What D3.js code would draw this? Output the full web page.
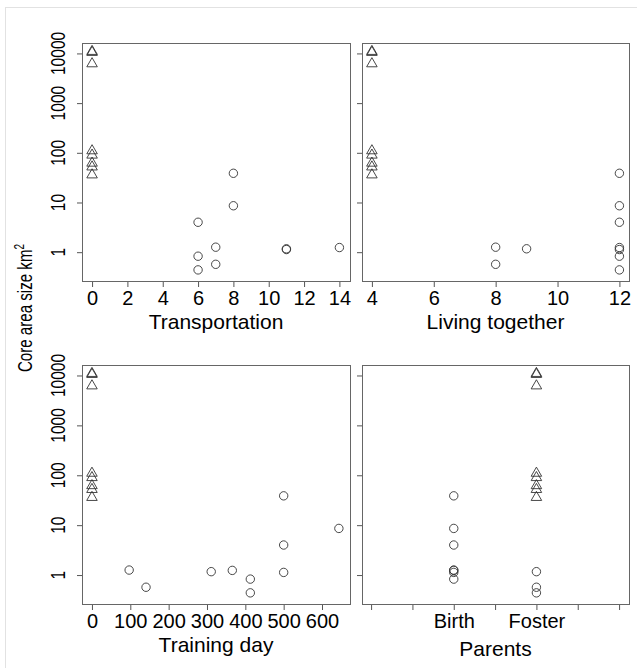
<!DOCTYPE html>
<html>
<head>
<meta charset="utf-8">
<script src="https://cdn.jsdelivr.net/npm/d3@7"></script>
<style>
  body { margin: 0; background: #fff; }
  svg text { font-family: "Liberation Sans", Arial, sans-serif; fill: #000; }
</style>
</head>
<body>
<div id="chart"></div>
<script>
// values, one entry per animal
const coreArea  = [11000, 10500, 6200, 110, 90, 62, 52, 36, 38.7, 8.6, 4.0, 1.26, 1.24, 1.17, 1.13, 0.83, 0.57, 0.44];
const marker    = ["tri","tri","tri","tri","tri","tri","tri","tri","circ","circ","circ","circ","circ","circ","circ","circ","circ","circ"];
const transport = [0, 0, 0, 0, 0, 0, 0, 0, 8, 8, 6, 7, 14, 11, 11, 6, 7, 6];
const living    = [4, 4, 4, 4, 4, 4, 4, 4, 12, 12, 12, 8, 12, 9, 12, 12, 8, 12];
const training  = [0, 0, 0, 0, 0, 0, 0, 0, 500, 644, 500, 97, 366, 311, 500, 413, 141, 413];
const parents   = ["Foster","Foster","Foster","Foster","Foster","Foster","Foster","Foster",
                   "Birth","Birth","Birth","Birth","Birth","Foster","Birth","Birth","Foster","Foster"];
const parentPos = {Birth: 1, Foster: 2};

const yTicks = [1, 10, 100, 1000, 10000];

const width = 637, height = 668;
const svg = d3.select("#chart").append("svg")
  .attr("width", width).attr("height", height);

// faint outer frame
svg.append("rect")
  .attr("x", 5.5).attr("y", 7.5).attr("width", 640).attr("height", 670)
  .attr("fill", "none").attr("stroke", "#e2e2e2");

const panels = [
  {x0: 82, x1: 350, y0: 43, y1: 281, domain: [-0.57, 14.6], ticks: d3.range(0, 15, 2),
   fmt: d => d, vals: transport, title: "Transportation", yAxis: true},
  {x0: 362, x1: 629, y0: 43, y1: 281, domain: [3.68, 12.31], ticks: d3.range(4, 13, 2),
   fmt: d => d, vals: living, title: "Living together", yAxis: false},
  {x0: 82, x1: 350, y0: 365, y1: 604, domain: [-26, 673], ticks: d3.range(0, 601, 100),
   fmt: d => d, vals: training, title: "Training day", yAxis: true},
  {x0: 362, x1: 629, y0: 365, y1: 604, domain: [-0.11, 3.12], ticks: d3.range(0, 3.01, 0.5),
   fmt: d => d === 1 ? "Birth" : d === 2 ? "Foster" : "", vals: parents.map(p => parentPos[p]),
   title: "Parents", yAxis: false, titleDy: 4}
];

const tri = d3.symbol().type(d3.symbolTriangle).size(48);

panels.forEach(p => {
  const x = d3.scaleLinear().domain(p.domain).range([p.x0, p.x1]);
  const y = d3.scaleLog().domain([Math.pow(10, -0.58), Math.pow(10, 4.21)]).range([p.y1, p.y0]);
  const g = svg.append("g");

  // x axis
  const xa = g.append("g").attr("transform", `translate(0,${p.y1})`)
    .call(d3.axisBottom(x).tickValues(p.ticks).tickSize(6).tickPadding(4).tickFormat(p.fmt));
  xa.select(".domain").remove();
  xa.selectAll("line").attr("stroke", "#555");
  xa.selectAll("text").attr("font-size", 20).attr("dy", "0.72em");

  // y axis
  const ya = g.append("g").attr("transform", `translate(${p.x0},0)`)
    .call(d3.axisLeft(y).tickValues(yTicks).tickSize(5).tickFormat(""));
  ya.select(".domain").remove();
  ya.selectAll("line").attr("stroke", "#555");
  if (p.yAxis) {
    // labels run along the axis, set narrower than they are tall
    g.selectAll(".ylab").data(yTicks).enter().append("text")
      .attr("transform", d => `translate(${p.x0 - 17},${y(d)}) scale(1,0.74) rotate(-90)`)
      .attr("text-anchor", "middle")
      .attr("font-size", 21)
      .text(d => d);
  }

  // plot box
  g.append("rect")
    .attr("x", p.x0 + 0.5).attr("y", p.y0 + 0.5)
    .attr("width", p.x1 - p.x0).attr("height", p.y1 - p.y0)
    .attr("fill", "none").attr("stroke", "#666");

  // points
  const idx = d3.range(coreArea.length);
  g.selectAll(".circ").data(idx.filter(i => marker[i] === "circ")).enter().append("circle")
    .attr("cx", i => x(p.vals[i])).attr("cy", i => y(coreArea[i]))
    .attr("r", 4.2).attr("fill", "none").attr("stroke", "#333").attr("stroke-width", 0.9);
  g.selectAll(".tri").data(idx.filter(i => marker[i] === "tri")).enter().append("path")
    .attr("d", tri)
    .attr("transform", i => `translate(${x(p.vals[i])},${y(coreArea[i])})`)
    .attr("fill", "none").attr("stroke", "#333").attr("stroke-width", 0.9);

  // axis title
  g.append("text")
    .attr("x", (p.x0 + p.x1) / 2).attr("y", p.y1 + 48 + (p.titleDy || 0))
    .attr("text-anchor", "middle").attr("font-size", 21)
    .text(p.title);
});

// shared y title, squeezed along the axis like the tick labels
svg.append("text")
  .attr("transform", "translate(32,308) scale(1,0.72) rotate(-90)")
  .attr("text-anchor", "middle").attr("font-size", 21)
  .html("Core area size km<tspan dy='-8' font-size='14'>2</tspan>");
</script>
</body>
</html>
